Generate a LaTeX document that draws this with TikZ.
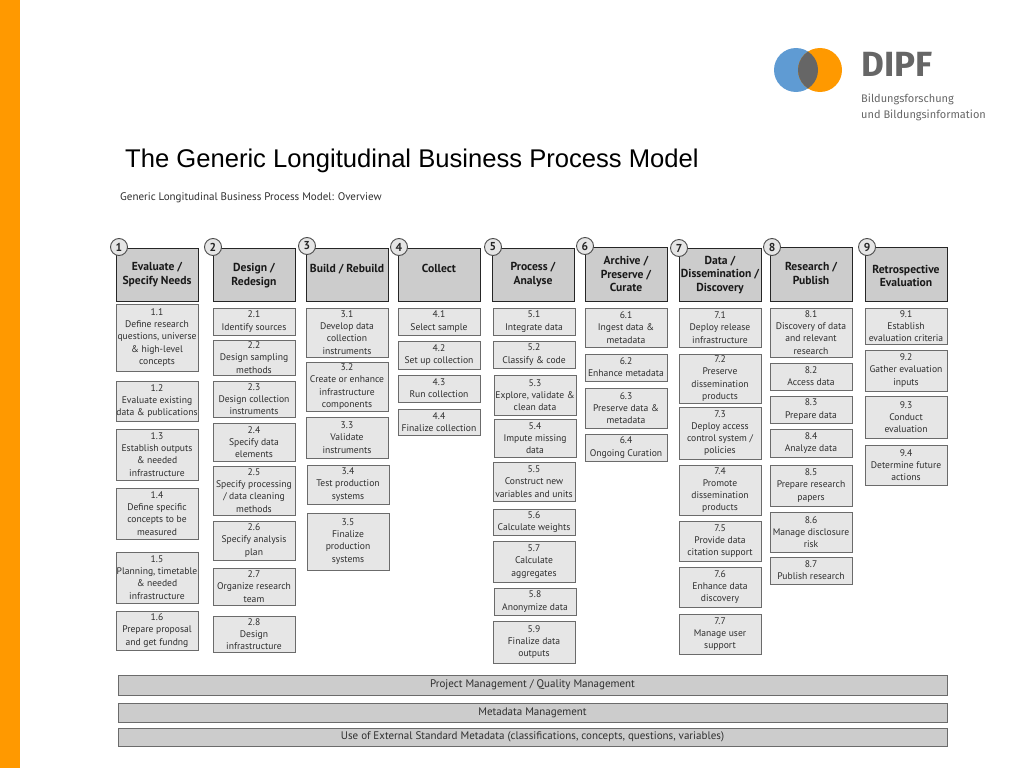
\documentclass[tikz,border=0pt]{standalone}
\usepackage{fontspec}
\setmainfont{PT Sans}
\newfontfamily\titlefont{Liberation Sans}
\newfontfamily\logofont{Fira Sans}
\definecolor{dipforange}{HTML}{FF9900}
\definecolor{dipfblue}{HTML}{5F9BD3}
\definecolor{dipfgrey}{HTML}{666666}
\definecolor{inktext}{HTML}{2E2E2E}
\definecolor{taskfill}{HTML}{E6E6E6}
\definecolor{headfill}{HTML}{CCCCCC}
\begin{document}
\begin{tikzpicture}[
    x=1pt, y=-1pt,
    taskbox/.style={draw=black!58, fill=taskfill, line width=1pt, inner sep=0pt, text=inktext, align=center, font=\fontsize{9.6}{12.2}\selectfont, minimum width=82pt},
    headbox/.style={draw=black!85, fill=headfill, line width=1.4pt, inner sep=0pt, minimum width=82pt},
    headtext/.style={inner sep=0pt, text=black!90, align=center, font=\fontsize{11.6}{13.9}\selectfont\bfseries},
    numdisc/.style={circle, draw=black!70, fill=black!10, line width=0.9pt, inner sep=0pt, minimum size=17pt, text=black!85, font=\fontsize{11.5}{11.5}\selectfont\bfseries},
    barbox/.style={draw=black!58, fill=headfill, line width=1pt, inner sep=0pt, minimum width=829pt, text=inktext, font=\fontsize{11}{12}\selectfont}
]
\useasboundingbox (0,0) rectangle (1024,768);

% Side strip
\fill[dipforange] (0,0) rectangle (20,768);

% Logo
\fill[dipfblue] (796,70) circle (22);
\fill[dipforange] (820,70) circle (22);
\begin{scope}
\clip (796,70) circle (22);
\fill[dipfgrey] (820,70) circle (22);
\end{scope}
\node[anchor=base west, inner sep=0pt, text=dipfgrey, font=\fontsize{35}{35}\selectfont\logofont\bfseries] (logoname) at (861,77) {DIPF};
\node[anchor=base west, inner sep=0pt, text=dipfgrey, font=\fontsize{11}{11}\selectfont\logofont] (logoline1) at (861,102) {Bildungsforschung};
\node[anchor=base west, inner sep=0pt, text=dipfgrey, font=\fontsize{11}{11}\selectfont\logofont] (logoline2) at (861,118) {und Bildungsinformation};

% Titles
\node[anchor=base west, inner sep=0pt, font=\fontsize{25.6}{25.6}\selectfont\titlefont] (title) at (125,167) {The Generic Longitudinal Business Process Model};
\node[anchor=base west, inner sep=0pt, text=inktext, font=\fontsize{11}{11}\selectfont] (subtitle) at (120,200) {Generic Longitudinal Business Process Model: Overview};

% Phase headers
\foreach \n/\xl/\yt/\ty/\cx/\cy/\txt in {
    1/116/248/275/119/247/{Evaluate /\\Specify Needs},
    2/213/248/276/213/247/{Design /\\Redesign},
    3/306/248/269/307/246/{Build / Rebuild},
    4/398/248/268/399/247/{Collect},
    5/492/248/275/493/247/{Process /\\Analyse},
    6/585/247/274/585/246/{Archive /\\Preserve /\\Curate},
    7/679/248/275/679/248/{Data /\\Dissemination /\\Discovery},
    8/770/247/273/772/247/{Research /\\Publish},
    9/865/247/276/867/247/{Retrospective\\Evaluation}}{
    \node[headbox, minimum height=301pt-\yt pt, anchor=north west] (head\n) at (\xl,\yt) {};
    \node[headtext] (headtext\n) at (\xl+41,\ty) {\txt};
    \node[numdisc] (num\n) at (\cx,\cy) {\n};
}

% Sub-processes
\foreach \n/\xl/\yt/\yb/\txt in {
    11/116/304/371/{1.1\\Define research\\questions, universe\\\& high-level\\concepts},
    12/116/381/421/{1.2\\Evaluate existing\\data \& publications},
    13/116/429/480/{1.3\\Establish outputs\\\& needed\\infrastructure},
    14/116/488/539/{1.4\\Define specific\\concepts to be\\measured},
    15/116/552/603/{1.5\\Planning, timetable\\\& needed\\infrastructure},
    16/116/611/650/{1.6\\Prepare proposal\\and get fundng},
    21/213/308/335/{2.1\\Identify sources},
    22/213/340/375/{2.2\\Design sampling\\methods},
    23/213/381/417/{2.3\\Design collection\\instruments},
    24/213/423/461/{2.4\\Specify data\\elements},
    25/213/466/515/{2.5\\Specify processing\\/ data cleaning\\methods},
    26/213/521/560/{2.6\\Specify analysis\\plan},
    27/213/568/605/{2.7\\Organize research\\team},
    28/213/616/652/{2.8\\Design\\infrastructure},
    31/306/308/357/{3.1\\Develop data\\collection\\instruments},
    32/306/362/411/{3.2\\Create or enhance\\infrastructure\\components},
    33/306/417/458/{3.3\\Validate\\instruments},
    34/307/465/504/{3.4\\Test production\\systems},
    35/307/513/570/{3.5\\Finalize\\production\\systems},
    41/398/308/335/{4.1\\Select sample},
    42/398/341/369/{4.2\\Set up collection},
    43/398/375/402/{4.3\\Run collection},
    44/398/409/435/{4.4\\Finalize collection},
    51/493/308/335/{5.1\\Integrate data},
    52/493/341/368/{5.2\\Classify \& code},
    53/494/375/415/{5.3\\Explore, validate \&\\clean data},
    54/494/419/457/{5.4\\Impute missing\\data},
    55/493/462/501/{5.5\\Construct new\\variables and units},
    56/493/509/535/{5.6\\Calculate weights},
    57/493/541/582/{5.7\\Calculate\\aggregates},
    58/494/588/615/{5.8\\Anonymize data},
    59/493/621/663/{5.9\\Finalize data\\outputs},
    61/585/308/347/{6.1\\Ingest data \&\\metadata},
    62/585/354/381/{6.2\\Enhance metadata},
    63/585/388/428/{6.3\\Preserve data \&\\metadata},
    64/585/434/461/{6.4\\Ongoing Curation},
    71/679/308/347/{7.1\\Deploy release\\infrastructure},
    72/679/354/403/{7.2\\Preserve\\dissemination\\products},
    73/679/407/459/{7.3\\Deploy access\\control system /\\policies},
    74/679/465/515/{7.4\\Promote\\dissemination\\products},
    75/679/521/561/{7.5\\Provide data\\citation support},
    76/679/567/607/{7.6\\Enhance data\\discovery},
    77/679/614/654/{7.7\\Manage user\\support},
    81/770/308/357/{8.1\\Discovery of data\\and relevant\\research},
    82/770/363/390/{8.2\\Access data},
    83/770/396/423/{8.3\\Prepare data},
    84/770/429/457/{8.4\\Analyze data},
    85/770/465/506/{8.5\\Prepare research\\papers},
    86/770/512/552/{8.6\\Manage disclosure\\risk},
    87/770/557/584/{8.7\\Publish research},
    91/865/308/344/{9.1\\Establish\\evaluation criteria},
    92/865/350/391/{9.2\\Gather evaluation\\inputs},
    93/865/396/438/{9.3\\Conduct\\evaluation},
    94/865/445/485/{9.4\\Determine future\\actions}}{
    \node[taskbox, minimum height=\yb pt-\yt pt] (task\n) at (\xl+41,{(\yt+\yb)/2}) {\txt};
}

% Cross-cutting bars
\node[barbox, minimum height=20pt] (barproject) at (532.5,685) {Project Management / Quality Management};
\node[barbox, minimum height=19pt] (barmeta) at (532.5,712.5) {Metadata Management};
\node[barbox, minimum height=18pt] (barexternal) at (532.5,737) {Use of External Standard Metadata (classifications, concepts, questions, variables)};

\end{tikzpicture}
\end{document}
